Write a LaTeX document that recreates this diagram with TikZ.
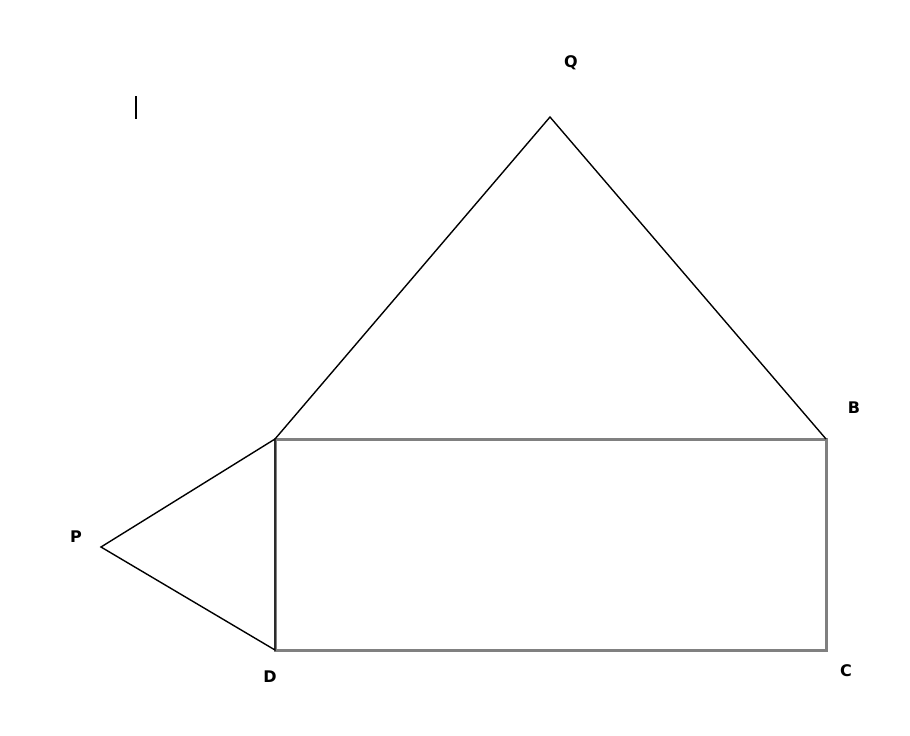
\documentclass[tikz,border=0pt]{standalone}
\usepackage{fontspec}
\setmainfont{DejaVu Sans}
\begin{document}
\begin{tikzpicture}[x=1pt,y=-1pt,
  lbl/.style={font=\fontsize{16}{18}\selectfont\bfseries, inner sep=0pt},
  rectline/.style={draw=black!50, line width=3pt},
  triline/.style={draw=black, line width=1.4pt, line join=miter}]
\useasboundingbox (0,0) rectangle (910,736);
\coordinate (A) at (275,439);
\coordinate (B) at (826,439);
\coordinate (C) at (826,650);
\coordinate (D) at (275,650);
\coordinate (Q) at (550,117);
\coordinate (P) at (101,547);
\draw[rectline] (A) -- (B) -- (C) -- (D) -- cycle;
\draw[triline] (A) -- (Q) -- (B);
\draw[triline] (A) -- (P) -- (D) -- (A);
\node[lbl] (lq) at (571,63) {Q};
\node[lbl] (lb) at (854,408) {B};
\node[lbl] (lc) at (846,671) {C};
\node[lbl] (ld) at (270,677) {D};
\node[lbl] (lp) at (76,537) {P};
\coordinate (c1) at (136,96);
\coordinate (c2) at (136,119);
\draw[line width=2pt] (c1) -- (c2);
\end{tikzpicture}
\end{document}
